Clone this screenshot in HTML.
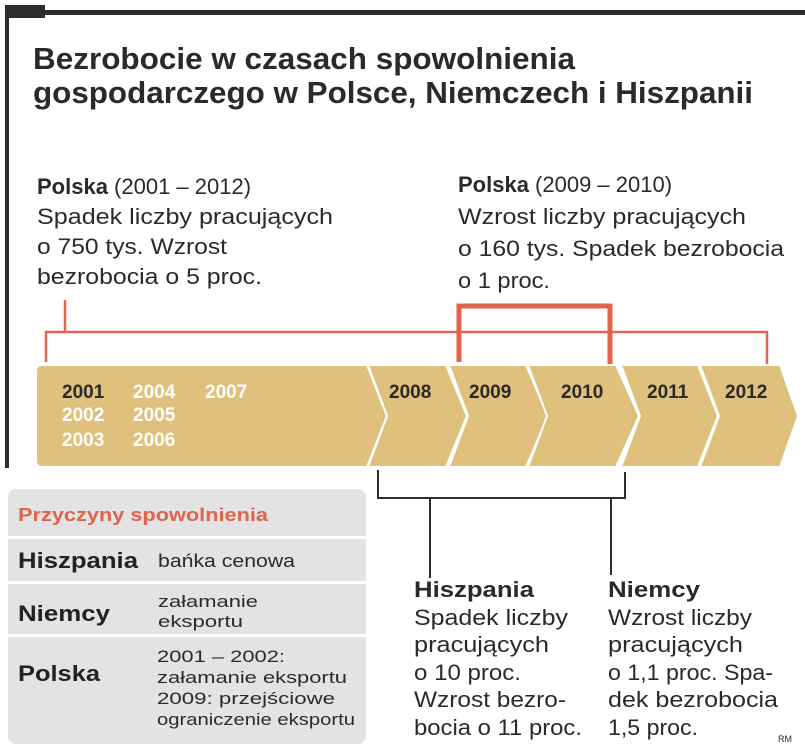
<!DOCTYPE html>
<html><head><meta charset="utf-8"><style>
html,body{margin:0;padding:0;background:#fff;}
svg{display:block;font-family:"Liberation Sans",sans-serif;}
</style></head><body>
<svg width="805" height="751" viewBox="0 0 805 751">
<rect x="5" y="10" width="800" height="5" fill="#2d2d2d"/>
<rect x="5" y="5" width="40" height="13" fill="#2d2d2d"/>
<rect x="5" y="5" width="4" height="463" fill="#2d2d2d"/>
<g font-weight="bold" fill="#2a2a2a" font-size="31">
<text x="33" y="69" textLength="542" lengthAdjust="spacingAndGlyphs">Bezrobocie w czasach spowolnienia</text>
<text x="33" y="103" textLength="720" lengthAdjust="spacingAndGlyphs">gospodarczego w Polsce, Niemczech i Hiszpanii</text>
</g>
<g font-size="22" fill="#2a2a2a">
<text x="37" y="194"><tspan font-weight="bold">Polska</tspan> (2001 – 2012)</text>
<text x="37" y="224" textLength="296" lengthAdjust="spacingAndGlyphs">Spadek liczby pracujących</text>
<text x="37" y="254" textLength="190" lengthAdjust="spacingAndGlyphs">o 750 tys. Wzrost</text>
<text x="37" y="284" textLength="225" lengthAdjust="spacingAndGlyphs">bezrobocia o 5 proc.</text>
</g>
<g font-size="22" fill="#2a2a2a">
<text x="458" y="192"><tspan font-weight="bold">Polska</tspan> (2009 – 2010)</text>
<text x="458" y="224" textLength="288" lengthAdjust="spacingAndGlyphs">Wzrost liczby pracujących</text>
<text x="458" y="256" textLength="326" lengthAdjust="spacingAndGlyphs">o 160 tys. Spadek bezrobocia</text>
<text x="458" y="288" textLength="92" lengthAdjust="spacingAndGlyphs">o 1 proc.</text>
</g>
<g stroke="#e0674f" stroke-width="2.5" fill="none">
<path d="M46,362 V332 H767 V364"/>
<path d="M65,300 V332"/>
</g>
<path d="M459,362 V306 H610 V368" stroke="#e0644b" stroke-width="5" fill="none"/>
<g id="timeline"></g>
<g stroke="#2d2d2d" stroke-width="2" fill="none">
<path d="M378,470 V498 H625 V472"/>
<path d="M430,498 V578"/>
<path d="M611,498 V575"/>
</g>
<g font-size="22" fill="#2a2a2a">
<text x="414" y="597" font-weight="bold" textLength="120" lengthAdjust="spacingAndGlyphs">Hiszpania</text>
<text x="414" y="625" textLength="154" lengthAdjust="spacingAndGlyphs">Spadek liczby</text>
<text x="414" y="652" textLength="135" lengthAdjust="spacingAndGlyphs">pracujących</text>
<text x="414" y="680" textLength="107" lengthAdjust="spacingAndGlyphs">o 10 proc.</text>
<text x="414" y="707" textLength="152" lengthAdjust="spacingAndGlyphs">Wzrost bezro-</text>
<text x="414" y="735" textLength="168" lengthAdjust="spacingAndGlyphs">bocia o 11 proc.</text>
</g>
<g font-size="22" fill="#2a2a2a">
<text x="608" y="597" font-weight="bold" textLength="92" lengthAdjust="spacingAndGlyphs">Niemcy</text>
<text x="608" y="625" textLength="144" lengthAdjust="spacingAndGlyphs">Wzrost liczby</text>
<text x="608" y="652" textLength="135" lengthAdjust="spacingAndGlyphs">pracujących</text>
<text x="608" y="680" textLength="165" lengthAdjust="spacingAndGlyphs">o 1,1 proc. Spa-</text>
<text x="608" y="707" textLength="170" lengthAdjust="spacingAndGlyphs">dek bezrobocia</text>
<text x="608" y="735" textLength="90" lengthAdjust="spacingAndGlyphs">1,5 proc.</text>
</g>
<text x="778" y="742" font-size="9" fill="#2a2a2a">RM</text>
<g>
<rect x="8" y="489" width="358" height="255" rx="8" fill="#e3e3e3"/>
<rect x="8" y="536" width="358" height="3" fill="#fff"/>
<rect x="8" y="581" width="358" height="3" fill="#fff"/>
<rect x="8" y="634" width="358" height="3" fill="#fff"/>
<text x="18" y="521" font-size="18" font-weight="bold" fill="#e0644b" textLength="250" lengthAdjust="spacingAndGlyphs">Przyczyny spowolnienia</text>
<text x="18" y="568" font-size="22" font-weight="bold" fill="#222" textLength="120" lengthAdjust="spacingAndGlyphs">Hiszpania</text>
<text x="158" y="567" font-size="18" fill="#2a2a2a" textLength="137" lengthAdjust="spacingAndGlyphs">bańka cenowa</text>
<text x="18" y="621" font-size="22" font-weight="bold" fill="#222" textLength="92" lengthAdjust="spacingAndGlyphs">Niemcy</text>
<g font-size="17" fill="#2a2a2a">
<text x="158" y="607" textLength="100" lengthAdjust="spacingAndGlyphs">załamanie</text>
<text x="158" y="627" textLength="85" lengthAdjust="spacingAndGlyphs">eksportu</text>
</g>
<text x="18" y="681" font-size="22" font-weight="bold" fill="#222" textLength="82" lengthAdjust="spacingAndGlyphs">Polska</text>
<g font-size="17" fill="#2a2a2a">
<text x="157" y="662" textLength="128" lengthAdjust="spacingAndGlyphs">2001 – 2002:</text>
<text x="157" y="683" textLength="190" lengthAdjust="spacingAndGlyphs">załamanie eksportu</text>
<text x="157" y="704" textLength="178" lengthAdjust="spacingAndGlyphs">2009: przejściowe</text>
<text x="157" y="725" textLength="198" lengthAdjust="spacingAndGlyphs">ograniczenie eksportu</text>
</g>
</g>
<script>
const segStarts = [36, 368, 449, 528, 621, 700];
const segEnds   = [367, 446, 526, 616, 698, 780];
const segTips   = [387, 467, 548, 639, 718, 798];
const segYears  = ["2001", "2008", "2009", "2010", "2011", "2012"];
const segYearX  = [62, 389, 469, 561, 647, 725];
const earlyYears = ["2002","2003","2004","2005","2006","2007"];
const SVGNS = "http://www.w3.org/2000/svg";
const tl = document.getElementById("timeline");
const yTop = 365, yBot = 467, yMid = 416;
for (let i = 0; i < segStarts.length; i++) {
  const p = document.createElementNS(SVGNS, "path");
  const s = segStarts[i], e = segEnds[i], t = segTips[i];
  let d;
  if (i === 0) d = `M${s+6},${yTop} H${e} L${t},${yMid} L${e},${yBot} H${s+6} Q${s},${yBot} ${s},${yBot-6} V${yTop+6} Q${s},${yTop} ${s+6},${yTop} Z`;
  else d = `M${s},${yTop} H${e} L${t},${yMid} L${e},${yBot} H${s} L${s+19},${yMid} Z`;
  p.setAttribute("d", d);
  p.setAttribute("fill", "#dfc07d");
  p.setAttribute("stroke", "#fff");
  p.setAttribute("stroke-width", "2");
  
  
  tl.appendChild(p);
  const tx = document.createElementNS(SVGNS, "text");
  tx.setAttribute("x", segYearX[i]); tx.setAttribute("y", 398);
  tx.setAttribute("font-size", "19"); tx.setAttribute("font-weight", "bold");
  tx.setAttribute("fill", "#2a2a2a");
  tx.textContent = segYears[i];
  
  
  tl.appendChild(tx);
}
const ex = [62, 62, 133, 133, 133, 205];
const ey = [421, 446, 398, 421, 446, 398];
for (let i = 0; i < earlyYears.length; i++) {
  const tx = document.createElementNS(SVGNS, "text");
  tx.setAttribute("x", ex[i]); tx.setAttribute("y", ey[i]);
  tx.setAttribute("font-size", "19"); tx.setAttribute("font-weight", "bold");
  tx.setAttribute("fill", "#fff");
  tx.textContent = earlyYears[i];
  
  
  tl.appendChild(tx);
}
</script>
</svg>
</body></html>
